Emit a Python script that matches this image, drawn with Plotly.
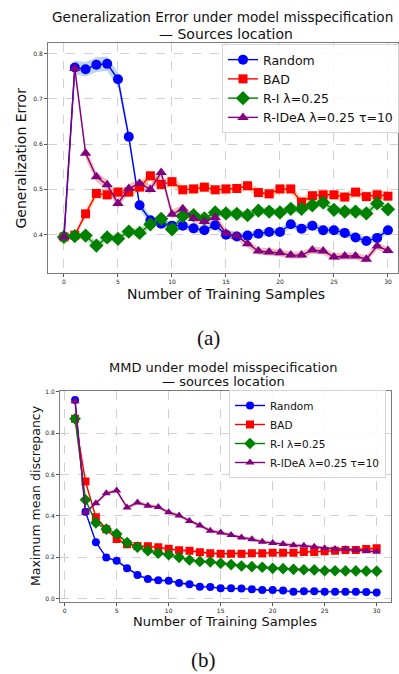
import plotly.graph_objects as go

# ---------------- data: panel (a) generalization error ----------------
xa = list(range(0, 31))
gen_random = [0.395, 0.769, 0.765, 0.775, 0.777, 0.743, 0.616, 0.465, 0.432, 0.424, 0.420,
              0.420, 0.414, 0.410, 0.421, 0.400, 0.396, 0.398, 0.402, 0.406, 0.406,
              0.423, 0.413, 0.420, 0.410, 0.410, 0.404, 0.394, 0.386, 0.393, 0.410]
gen_bad = [0.395, 0.399, 0.446, 0.491, 0.488, 0.494, 0.494, 0.505, 0.530, 0.511, 0.517,
           0.499, 0.501, 0.505, 0.499, 0.501, 0.502, 0.508, 0.493, 0.490, 0.501,
           0.501, 0.472, 0.486, 0.488, 0.488, 0.483, 0.494, 0.484, 0.488, 0.485]
gen_ri = [0.395, 0.397, 0.398, 0.376, 0.394, 0.391, 0.407, 0.404, 0.423, 0.435, 0.412,
          0.441, 0.443, 0.436, 0.449, 0.447, 0.446, 0.443, 0.453, 0.451, 0.449,
          0.457, 0.457, 0.465, 0.471, 0.455, 0.451, 0.451, 0.447, 0.469, 0.456]
gen_ridea = [0.395, 0.767, 0.580, 0.528, 0.510, 0.469, 0.502, 0.513, 0.500, 0.537, 0.445,
             0.457, 0.436, 0.429, 0.438, 0.403, 0.397, 0.380, 0.364, 0.362, 0.360,
             0.355, 0.355, 0.366, 0.364, 0.351, 0.353, 0.353, 0.346, 0.375, 0.365]
gen_err_random = [0.004, 0.015, 0.016, 0.016, 0.016, 0.015, 0.012, 0.010, 0.009, 0.009, 0.008,
                  0.008, 0.008, 0.008, 0.008, 0.008, 0.008, 0.008, 0.008, 0.008, 0.008,
                  0.008, 0.008, 0.008, 0.008, 0.008, 0.008, 0.008, 0.008, 0.008, 0.008]
gen_err_bad = [0.004, 0.006, 0.009, 0.011, 0.011, 0.011, 0.011, 0.011, 0.011, 0.011, 0.011,
               0.010, 0.010, 0.010, 0.010, 0.010, 0.010, 0.010, 0.010, 0.010, 0.010,
               0.010, 0.010, 0.010, 0.010, 0.010, 0.010, 0.010, 0.010, 0.010, 0.010]
gen_err_ri = [0.004, 0.006, 0.008, 0.008, 0.009, 0.009, 0.009, 0.009, 0.009, 0.009, 0.009,
              0.009, 0.009, 0.009, 0.009, 0.009, 0.009, 0.009, 0.009, 0.009, 0.009,
              0.009, 0.009, 0.009, 0.009, 0.009, 0.009, 0.009, 0.009, 0.009, 0.009]
gen_err_ridea = [0.004, 0.012, 0.012, 0.011, 0.011, 0.010, 0.010, 0.010, 0.010, 0.010, 0.010,
                 0.009, 0.009, 0.009, 0.009, 0.009, 0.009, 0.009, 0.008, 0.008, 0.008,
                 0.008, 0.008, 0.008, 0.008, 0.008, 0.008, 0.008, 0.008, 0.008, 0.008]

# ---------------- data: panel (b) MMD ----------------
xb = list(range(1, 31))
mmd_random = [0.961, 0.421, 0.273, 0.199, 0.183, 0.147, 0.115, 0.095, 0.089, 0.087,
              0.076, 0.070, 0.058, 0.057, 0.050, 0.050, 0.049, 0.046, 0.042, 0.042,
              0.039, 0.034, 0.036, 0.036, 0.034, 0.033, 0.033, 0.033, 0.032, 0.030]
mmd_bad = [0.870, 0.567, 0.394, 0.336, 0.289, 0.263, 0.255, 0.253, 0.249, 0.241,
           0.234, 0.232, 0.225, 0.220, 0.217, 0.217, 0.217, 0.220, 0.220, 0.222,
           0.222, 0.222, 0.226, 0.226, 0.229, 0.232, 0.235, 0.235, 0.240, 0.244]
mmd_ri = [0.870, 0.478, 0.367, 0.336, 0.313, 0.271, 0.249, 0.232, 0.220, 0.213,
          0.200, 0.187, 0.180, 0.178, 0.171, 0.165, 0.158, 0.155, 0.152, 0.147,
          0.145, 0.142, 0.140, 0.139, 0.135, 0.135, 0.134, 0.134, 0.133, 0.133]
mmd_ridea = [0.955, 0.417, 0.462, 0.510, 0.523, 0.441, 0.465, 0.450, 0.443, 0.418,
             0.402, 0.376, 0.354, 0.329, 0.320, 0.308, 0.296, 0.288, 0.275, 0.269,
             0.264, 0.259, 0.256, 0.251, 0.244, 0.240, 0.240, 0.235, 0.230, 0.227]
mmd_err_random = [0.006] * 30
mmd_err_bad = [0.007] * 30
mmd_err_ri = [0.006] * 30
mmd_err_ridea = [0.009] * 30

labels = ["Random", "BAD", "R-I λ=0.25", "R-IDeA λ=0.25 τ=10"]
line_colors = ["blue", "red", "green", "purple"]
band_colors = ["rgba(31,119,180,0.3)", "rgba(255,127,14,0.3)",
               "rgba(44,160,44,0.3)", "rgba(214,39,40,0.3)"]
symbols = ["circle", "square", "diamond", "triangle-up"]

W, H = 399, 674
FONT = "DejaVu Sans"

def px_x(p):
    return p / W

def px_y(p):
    return 1 - p / H

fig = go.Figure()

panels = [
    dict(x=xa, ys=[gen_random, gen_bad, gen_ri, gen_ridea],
         errs=[gen_err_random, gen_err_bad, gen_err_ri, gen_err_ridea],
         xa="x", ya="y", legend="legend", msizes=[10, 9, 11, 10]),
    dict(x=xb, ys=[mmd_random, mmd_bad, mmd_ri, mmd_ridea],
         errs=[mmd_err_random, mmd_err_bad, mmd_err_ri, mmd_err_ridea],
         xa="x2", ya="y2", legend="legend2", msizes=[8, 8, 9, 8]),
]

for p in panels:
    x = p["x"]
    for i in range(4):
        y = p["ys"][i]
        e = p["errs"][i]
        up = [a + b for a, b in zip(y, e)]
        lo = [a - b for a, b in zip(y, e)]
        fig.add_trace(go.Scatter(
            x=x + x[::-1], y=up + lo[::-1], fill="toself",
            fillcolor=band_colors[i], line=dict(width=0), mode="lines",
            hoverinfo="skip", showlegend=False, xaxis=p["xa"], yaxis=p["ya"]))
    for i in range(4):
        fig.add_trace(go.Scatter(
            x=x, y=p["ys"][i], mode="lines+markers", name=labels[i],
            line=dict(color=line_colors[i], width=1.4),
            marker=dict(color=line_colors[i], symbol=symbols[i], size=p["msizes"][i]),
            xaxis=p["xa"], yaxis=p["ya"], legend=p["legend"]))

axis_common = dict(
    showline=True, linecolor="#7a7a7a", linewidth=1, mirror=True,
    showgrid=True, gridcolor="#d0d0d0", griddash="dash", gridwidth=0.8,
    ticks="outside", ticklen=3, tickcolor="#555", tickwidth=0.8,
    tickfont=dict(family=FONT, size=6, color="#222"), zeroline=False,
    automargin=False,
)

fig.update_layout(
    width=W, height=H, margin=dict(l=0, r=0, t=0, b=0, autoexpand=False),
    paper_bgcolor="white", plot_bgcolor="white",
    xaxis=dict(domain=[px_x(48), px_x(398)], range=[-1.48, 30.93],
               tickvals=[0, 5, 10, 15, 20, 25, 30], anchor="y", **axis_common),
    yaxis=dict(domain=[px_y(273), px_y(43)], range=[0.3155, 0.823],
               tickvals=[0.4, 0.5, 0.6, 0.7, 0.8], tickformat=".1f", anchor="x", **axis_common),
    xaxis2=dict(domain=[px_x(60), px_x(391)], range=[-0.45, 31.38],
                tickvals=[0, 5, 10, 15, 20, 25, 30], anchor="y2", **axis_common),
    yaxis2=dict(domain=[px_y(601.7), px_y(391)], range=[-0.0147, 1.0048],
                tickvals=[0.0, 0.2, 0.4, 0.6, 0.8, 1.0], tickformat=".1f", anchor="x2", **axis_common),
    legend=dict(x=1.0, y=px_y(44), xanchor="right", yanchor="top",
                bgcolor="rgba(255,255,255,0.85)", bordercolor="#d5d5d5", borderwidth=1,
                font=dict(family=FONT, size=12.5, color="#111")),
    legend2=dict(x=px_x(386), y=px_y(390), xanchor="right", yanchor="top",
                 bgcolor="rgba(255,255,255,0.85)", bordercolor="#d5d5d5", borderwidth=1,
                 font=dict(family=FONT, size=10.5, color="#111")),
)

def ann(text, x, y, size, family=FONT, angle=0):
    fig.add_annotation(text=text, x=px_x(x), y=px_y(y), xref="paper", yref="paper",
                       showarrow=False, xanchor="center", yanchor="middle",
                       textangle=angle, font=dict(family=family, size=size, color="#111"))

ann("Generalization Error under model misspecification", 222, 17, 13.6)
ann("— Sources location", 226, 34, 14)
ann("Number of Training Samples", 226, 294, 14)
ann("Generalization Error", 20.5, 158, 14, angle=-90)
ann("(a)", 208, 338, 21, family="Liberation Serif")

ann("MMD under model misspecification", 223, 367, 13)
ann("— sources location", 223, 381, 13)
ann("Number of Training Samples", 225, 621, 13)
ann("Maximum mean discrepancy", 35, 496, 12.5, angle=-90)
ann("(b)", 203, 660, 21, family="Liberation Serif")

fig.write_html("out.html")
